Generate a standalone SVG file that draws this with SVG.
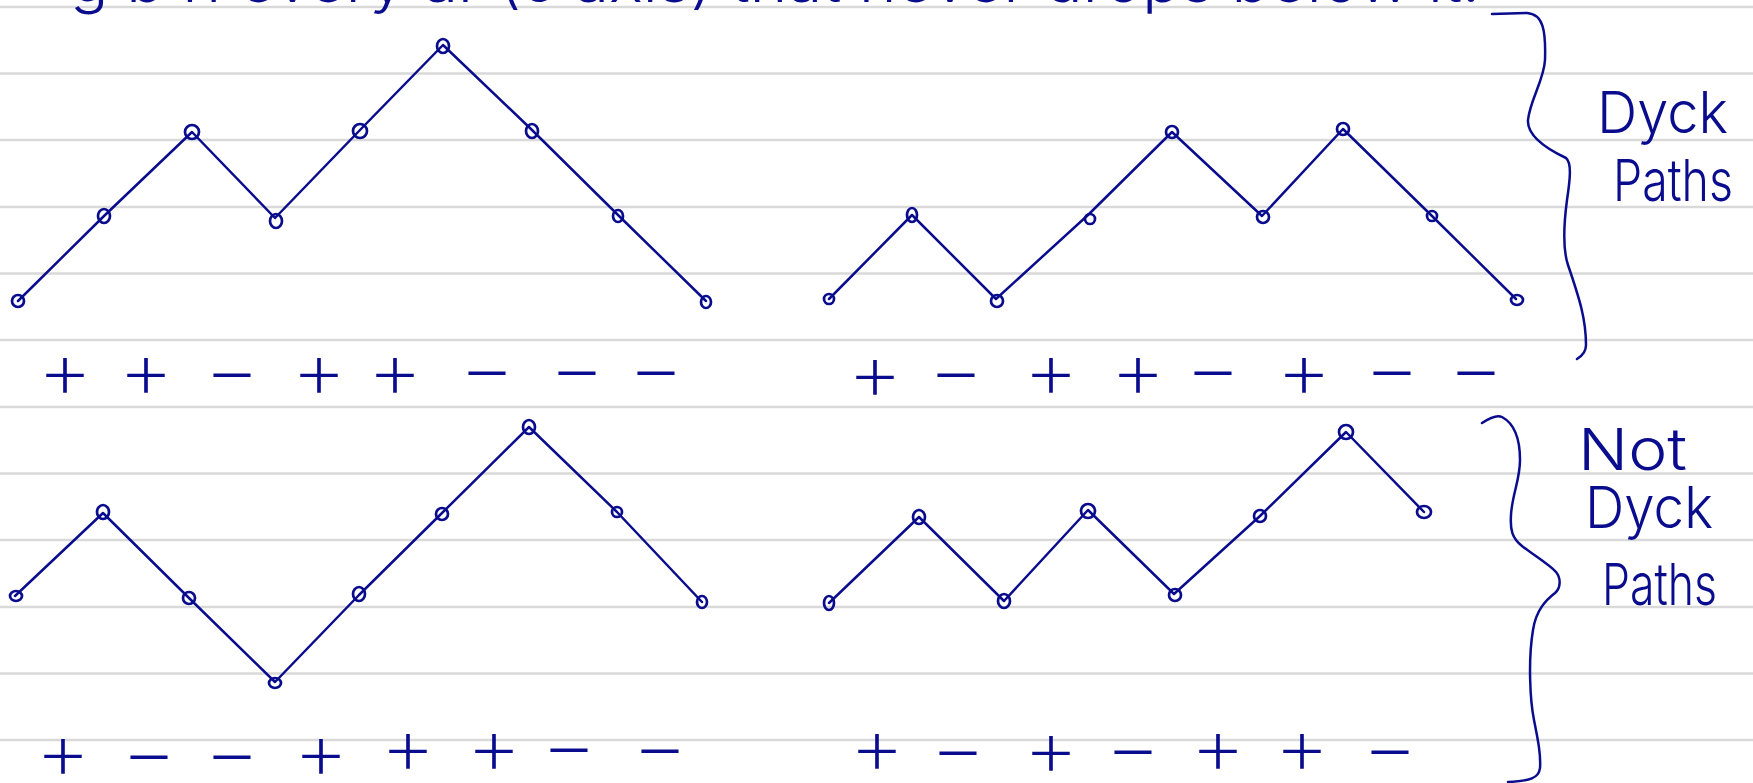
<svg xmlns="http://www.w3.org/2000/svg" width="1753" height="783" viewBox="0 0 1753 783">
<style>
.rule{stroke:#d9d9d9;stroke-width:2.5}
.ink{fill:none;stroke:#0a0c8e;stroke-width:2.5;stroke-linecap:round;stroke-linejoin:round}
.pt{fill:none;stroke:#0a0c8e;stroke-width:2.7}
.sg{font-family:Inter,"Liberation Sans",sans-serif;font-weight:200;font-size:80px;fill:#0a0c8e;text-anchor:middle}
.lbl{font-family:Inter,"Liberation Sans",sans-serif;font-weight:300;font-size:58px;fill:#0a0c8e}
</style>
<rect width="1753" height="783" fill="#ffffff"/>
<g id="rules">
<line class="rule" x1="0" y1="7" x2="1753" y2="7"/>
<line class="rule" x1="0" y1="73.5" x2="1753" y2="73.5"/>
<line class="rule" x1="0" y1="140" x2="1753" y2="140"/>
<line class="rule" x1="0" y1="207" x2="1753" y2="207"/>
<line class="rule" x1="0" y1="273.5" x2="1753" y2="273.5"/>
<line class="rule" x1="0" y1="340" x2="1753" y2="340"/>
<line class="rule" x1="0" y1="407" x2="1753" y2="407"/>
<line class="rule" x1="0" y1="473.5" x2="1753" y2="473.5"/>
<line class="rule" x1="0" y1="540" x2="1753" y2="540"/>
<line class="rule" x1="0" y1="607" x2="1753" y2="607"/>
<line class="rule" x1="0" y1="673.5" x2="1753" y2="673.5"/>
<line class="rule" x1="0" y1="740" x2="1753" y2="740"/>
</g>
<text id="heading" x="70" y="2" class="lbl" font-size="50" textLength="1410" lengthAdjust="spacingAndGlyphs">g b ri every ar (c axis) that never drops below it.</text>
<g id="connectors">
<polyline class="ink" points="18,301 104,216 192,132 275,218 360,130 443,45 532,130 618,215 706,301"/>
<polyline class="ink" points="829,299 912,215 996,299 1088,215 1172,132 1262,216 1343,129 1432,216 1516,299"/>
<polyline class="ink" points="15,596 103,513 189,598 275,682 359,595 442,513 529,427 617,512 702,602"/>
<polyline class="ink" points="829,603 919,517 1004,601 1088,510 1174,594 1260,516 1346,432 1424,512"/>
</g>
<g id="dyck1">
<ellipse class="pt" cx="18" cy="301" rx="6" ry="6"/>
<ellipse class="pt" cx="104" cy="216" rx="6" ry="7"/>
<ellipse class="pt" cx="192" cy="132" rx="7" ry="7"/>
<ellipse class="pt" cx="276" cy="221" rx="6" ry="7"/>
<ellipse class="pt" cx="360" cy="131" rx="7" ry="7"/>
<ellipse class="pt" cx="443" cy="46" rx="6" ry="7"/>
<ellipse class="pt" cx="532" cy="131" rx="6" ry="7"/>
<ellipse class="pt" cx="618" cy="216" rx="5" ry="6"/>
<ellipse class="pt" cx="706" cy="302" rx="5" ry="6"/>
</g>
<g id="dyck2">
<ellipse class="pt" cx="829" cy="299" rx="5" ry="5"/>
<ellipse class="pt" cx="912" cy="215" rx="5" ry="7"/>
<ellipse class="pt" cx="997" cy="301" rx="6" ry="6"/>
<ellipse class="pt" cx="1090" cy="219" rx="5" ry="5"/>
<ellipse class="pt" cx="1172" cy="132" rx="6" ry="6"/>
<ellipse class="pt" cx="1263" cy="217" rx="6" ry="6"/>
<ellipse class="pt" cx="1343" cy="129" rx="6" ry="6"/>
<ellipse class="pt" cx="1432" cy="216" rx="5" ry="5"/>
<ellipse class="pt" cx="1517" cy="300" rx="6" ry="5"/>
</g>
<g id="notdyck1">
<ellipse class="pt" cx="16" cy="596" rx="6" ry="5"/>
<ellipse class="pt" cx="103" cy="512" rx="6" ry="7"/>
<ellipse class="pt" cx="189" cy="598" rx="6" ry="6"/>
<ellipse class="pt" cx="275" cy="683" rx="6" ry="5"/>
<ellipse class="pt" cx="359" cy="594" rx="6" ry="7"/>
<ellipse class="pt" cx="442" cy="514" rx="6" ry="6"/>
<ellipse class="pt" cx="529" cy="427" rx="6" ry="7"/>
<ellipse class="pt" cx="617" cy="512" rx="5" ry="5"/>
<ellipse class="pt" cx="702" cy="602" rx="5" ry="6"/>
</g>
<g id="notdyck2">
<ellipse class="pt" cx="829" cy="603" rx="5" ry="7"/>
<ellipse class="pt" cx="919" cy="517" rx="6" ry="7"/>
<ellipse class="pt" cx="1004" cy="601" rx="6" ry="7"/>
<ellipse class="pt" cx="1088" cy="511" rx="7" ry="7"/>
<ellipse class="pt" cx="1175" cy="595" rx="6" ry="6"/>
<ellipse class="pt" cx="1260" cy="516" rx="6" ry="6"/>
<ellipse class="pt" cx="1346" cy="432" rx="7" ry="7"/>
<ellipse class="pt" cx="1424" cy="512" rx="7" ry="6"/>
</g>
<g id="signs1">
<text class="sg" x="65" y="398" textLength="56" lengthAdjust="spacingAndGlyphs">+</text>
<text class="sg" x="146" y="398" textLength="56" lengthAdjust="spacingAndGlyphs">+</text>
<text class="sg" x="232" y="398" textLength="56" lengthAdjust="spacingAndGlyphs">−</text>
<text class="sg" x="319" y="398" textLength="56" lengthAdjust="spacingAndGlyphs">+</text>
<text class="sg" x="395" y="398" textLength="56" lengthAdjust="spacingAndGlyphs">+</text>
<text class="sg" x="487" y="396" textLength="56" lengthAdjust="spacingAndGlyphs">−</text>
<text class="sg" x="577" y="396" textLength="56" lengthAdjust="spacingAndGlyphs">−</text>
<text class="sg" x="656" y="396" textLength="56" lengthAdjust="spacingAndGlyphs">−</text>
</g>
<g id="signs2">
<text class="sg" x="875" y="400" textLength="56" lengthAdjust="spacingAndGlyphs">+</text>
<text class="sg" x="956" y="398" textLength="56" lengthAdjust="spacingAndGlyphs">−</text>
<text class="sg" x="1051" y="398" textLength="56" lengthAdjust="spacingAndGlyphs">+</text>
<text class="sg" x="1138" y="398" textLength="56" lengthAdjust="spacingAndGlyphs">+</text>
<text class="sg" x="1213" y="396" textLength="56" lengthAdjust="spacingAndGlyphs">−</text>
<text class="sg" x="1304" y="398" textLength="56" lengthAdjust="spacingAndGlyphs">+</text>
<text class="sg" x="1392" y="396" textLength="56" lengthAdjust="spacingAndGlyphs">−</text>
<text class="sg" x="1476" y="396" textLength="56" lengthAdjust="spacingAndGlyphs">−</text>
</g>
<g id="signs3">
<text class="sg" x="63" y="779" textLength="56" lengthAdjust="spacingAndGlyphs">+</text>
<text class="sg" x="149" y="780" textLength="56" lengthAdjust="spacingAndGlyphs">−</text>
<text class="sg" x="232" y="780" textLength="56" lengthAdjust="spacingAndGlyphs">−</text>
<text class="sg" x="321" y="779" textLength="56" lengthAdjust="spacingAndGlyphs">+</text>
<text class="sg" x="408" y="774" textLength="56" lengthAdjust="spacingAndGlyphs">+</text>
<text class="sg" x="494" y="774" textLength="56" lengthAdjust="spacingAndGlyphs">+</text>
<text class="sg" x="569" y="773" textLength="56" lengthAdjust="spacingAndGlyphs">−</text>
<text class="sg" x="660" y="774" textLength="56" lengthAdjust="spacingAndGlyphs">−</text>
</g>
<g id="signs4">
<text class="sg" x="877" y="774" textLength="56" lengthAdjust="spacingAndGlyphs">+</text>
<text class="sg" x="958" y="776" textLength="56" lengthAdjust="spacingAndGlyphs">−</text>
<text class="sg" x="1051" y="776" textLength="56" lengthAdjust="spacingAndGlyphs">+</text>
<text class="sg" x="1133" y="775" textLength="56" lengthAdjust="spacingAndGlyphs">−</text>
<text class="sg" x="1218" y="774" textLength="56" lengthAdjust="spacingAndGlyphs">+</text>
<text class="sg" x="1302" y="774" textLength="56" lengthAdjust="spacingAndGlyphs">+</text>
<text class="sg" x="1390" y="775" textLength="56" lengthAdjust="spacingAndGlyphs">−</text>
</g>
<g id="brace-dyck">
<path class="ink" d="M1492,14 L1527,13 C1543,14 1546,30 1545,60 C1544,80 1530,100 1528,120 C1527,135 1545,148 1566,158 C1572,163 1570,180 1567,200 C1563,230 1563,250 1568,265 C1580,300 1586,320 1586,345 C1586,352 1582,356 1577,359"/>
</g>
<g id="label-dyck">
<text class="lbl" x="1597" y="133" textLength="131" lengthAdjust="spacingAndGlyphs">Dyck</text>
<text class="lbl" x="1613" y="201" textLength="120" lengthAdjust="spacingAndGlyphs">Paths</text>
</g>
<g id="brace-notdyck">
<path class="ink" d="M1482,423 C1488,419 1496,414 1502,417 C1515,424 1520,440 1520,460 C1520,480 1512,495 1511,515 C1510,530 1512,538 1522,546 C1535,556 1550,565 1556,572 C1561,578 1561,588 1555,593 C1546,600 1536,610 1533,630 C1528,660 1530,700 1534,720 C1538,740 1541,755 1540,768 C1539,778 1530,781 1508,782"/>
</g>
<g id="label-notdyck">
<text class="lbl" x="1578" y="470" textLength="109" lengthAdjust="spacingAndGlyphs">Not</text>
<text class="lbl" x="1585" y="528" textLength="128" lengthAdjust="spacingAndGlyphs">Dyck</text>
<text class="lbl" x="1602" y="605" textLength="115" lengthAdjust="spacingAndGlyphs">Paths</text>
</g>
</svg>
